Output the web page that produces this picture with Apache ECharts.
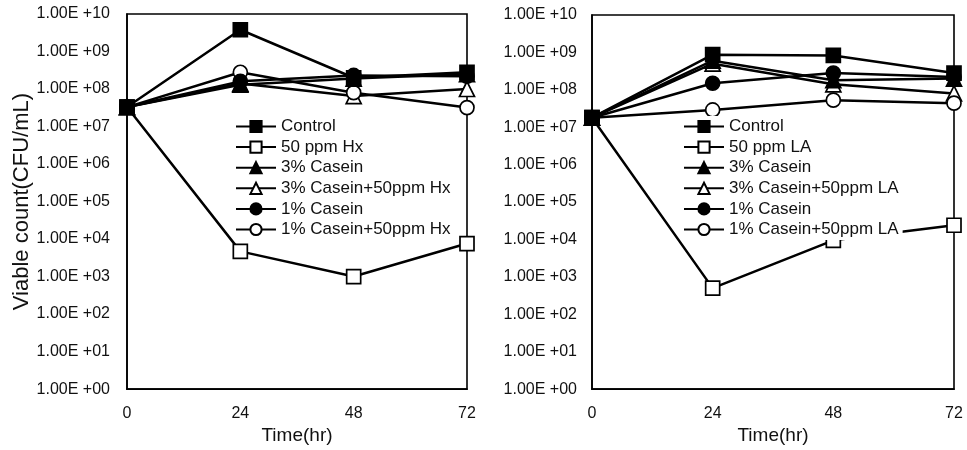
<!DOCTYPE html>
<html>
<head>
<meta charset="utf-8">
<script src="https://cdn.jsdelivr.net/npm/echarts@6/dist/echarts.min.js"></script>
<style>
  html, body { margin: 0; padding: 0; background: #fff; }
  #chart { width: 967px; height: 450px; }
</style>
</head>
<body>
<div id="chart"></div>
<script>
// Sampling times (hours)
const times = [0, 24, 48, 72];

// Left panel: hexanal (Hx) treatments, viable count CFU/mL
const hxNames = ['Control', '50 ppm Hx', '3% Casein', '3% Casein+50ppm Hx', '1% Casein', '1% Casein+50ppm Hx'];
const hxControl   = [3.3e7, 3.8e9, 2.0e8, 2.8e8];
const hx50        = [3.3e7, 4.7e3, 1.0e3, 7.6e3];
const hxCasein3   = [3.3e7, 1.3e8, 1.9e8, 2.5e8];
const hxCasein3Hx = [3.3e7, 1.4e8, 6.5e7, 1.0e8];
const hxCasein1   = [3.3e7, 1.6e8, 2.3e8, 2.2e8];
const hxCasein1Hx = [3.3e7, 2.8e8, 8.0e7, 3.2e7];

// Right panel: lauric acid (LA) treatments, viable count CFU/mL
const laNames = ['Control', '50 ppm LA', '3% Casein', '3% Casein+50ppm LA', '1% Casein', '1% Casein+50ppm LA'];
const laControl   = [1.8e7, 8.7e8, 8.3e8, 2.8e8];
const la50        = [1.8e7, 5.0e2, 9.5e3, 2.4e4];
const laCasein3   = [1.8e7, 6.0e8, 1.8e8, 2.0e8];
const laCasein3La = [1.8e7, 5.0e8, 1.4e8, 8.0e7];
const laCasein1   = [1.8e7, 1.5e8, 2.8e8, 2.2e8];
const laCasein1La = [1.8e7, 2.9e7, 5.3e7, 4.4e7];

// Marker styles per treatment slot (same order in both panels)
const markers = [
  { symbol: 'rect', filled: true },
  { symbol: 'rect', filled: false },
  { symbol: 'triangle', filled: true },
  { symbol: 'triangle', filled: false },
  { symbol: 'circle', filled: true },
  { symbol: 'circle', filled: false }
];

const FONT = 'Liberation Sans, Arial, sans-serif';

function pairs(values) {
  return times.map((t, i) => [t, values[i]]);
}

function makeSeries(names, valueSets, axisIndex) {
  return valueSets.map((vals, i) => ({
    name: names[i],
    type: 'line',
    xAxisIndex: axisIndex,
    yAxisIndex: axisIndex,
    data: pairs(vals),
    symbol: markers[i].symbol,
    symbolSize: markers[i].symbol === 'triangle' ? 15 : 14,
    showSymbol: true,
    lineStyle: { color: '#000', width: 2.5 },
    itemStyle: {
      color: markers[i].filled ? '#000' : '#fff',
      borderColor: '#000',
      borderWidth: 1.7
    },
    emphasis: { disabled: true },
    z: markers[i].filled ? 3 : 2
  }));
}

function expLabel(v) {
  const e = Math.round(Math.log10(v));
  return '1.00E +' + String(e).padStart(2, '0');
}

function yAxisCfg(gridIndex, withName, margin) {
  return {
    type: 'log',
    logBase: 10,
    gridIndex: gridIndex,
    min: 1,
    max: 1e10,
    interval: 1,
    name: withName ? 'Viable count(CFU/mL)' : '',
    nameLocation: 'middle',
    nameGap: 87,
    nameTextStyle: { fontFamily: FONT, fontSize: 22, color: '#111' },
    axisLine: { show: true, lineStyle: { color: '#000', width: 1.6 } },
    axisTick: { show: false },
    splitLine: { show: false },
    minorTick: { show: false },
    axisLabel: {
      formatter: expLabel,
      fontFamily: FONT,
      fontSize: 16,
      color: '#111',
      margin: margin
    }
  };
}

function xAxisCfg(gridIndex) {
  return {
    type: 'value',
    gridIndex: gridIndex,
    min: 0,
    max: 72,
    interval: 24,
    name: 'Time(hr)',
    nameLocation: 'middle',
    nameGap: 33,
    nameTextStyle: { fontFamily: FONT, fontSize: 19, color: '#111' },
    axisLine: { show: true, lineStyle: { color: '#000', width: 1.6 } },
    axisTick: { show: false },
    splitLine: { show: false },
    axisLabel: { fontFamily: FONT, fontSize: 16, color: '#111', margin: 16 }
  };
}

function legendCfg(names, left) {
  return {
    orient: 'vertical',
    left: left,
    top: 116,
    data: names,
    itemWidth: 40,
    itemHeight: 14,
    itemGap: 3.6,
    padding: [2, 4, 2, 0],
    backgroundColor: '#fff',
    selectedMode: false,
    textStyle: { fontFamily: FONT, fontSize: 17, color: '#111' },
    z: 10
  };
}

const chart = echarts.init(document.getElementById('chart'), null, { renderer: 'canvas' });

chart.setOption({
  backgroundColor: '#fff',
  animation: false,
  grid: [
    { left: 127, top: 14, width: 340, height: 381, show: true, borderColor: '#000', borderWidth: 1.6, backgroundColor: 'transparent' },
    { left: 592, top: 15, width: 362, height: 377, show: true, borderColor: '#000', borderWidth: 1.6, backgroundColor: 'transparent' }
  ],
  xAxis: [xAxisCfg(0), xAxisCfg(1)],
  yAxis: [yAxisCfg(0, true, 17), yAxisCfg(1, false, 15)],
  legend: [legendCfg(hxNames, 235), legendCfg(laNames, 683)],
  series: [
    ...makeSeries(hxNames, [hxControl, hx50, hxCasein3, hxCasein3Hx, hxCasein1, hxCasein1Hx], 0),
    ...makeSeries(laNames, [laControl, la50, laCasein3, laCasein3La, laCasein1, laCasein1La], 1)
  ]
});
</script>
</body>
</html>
